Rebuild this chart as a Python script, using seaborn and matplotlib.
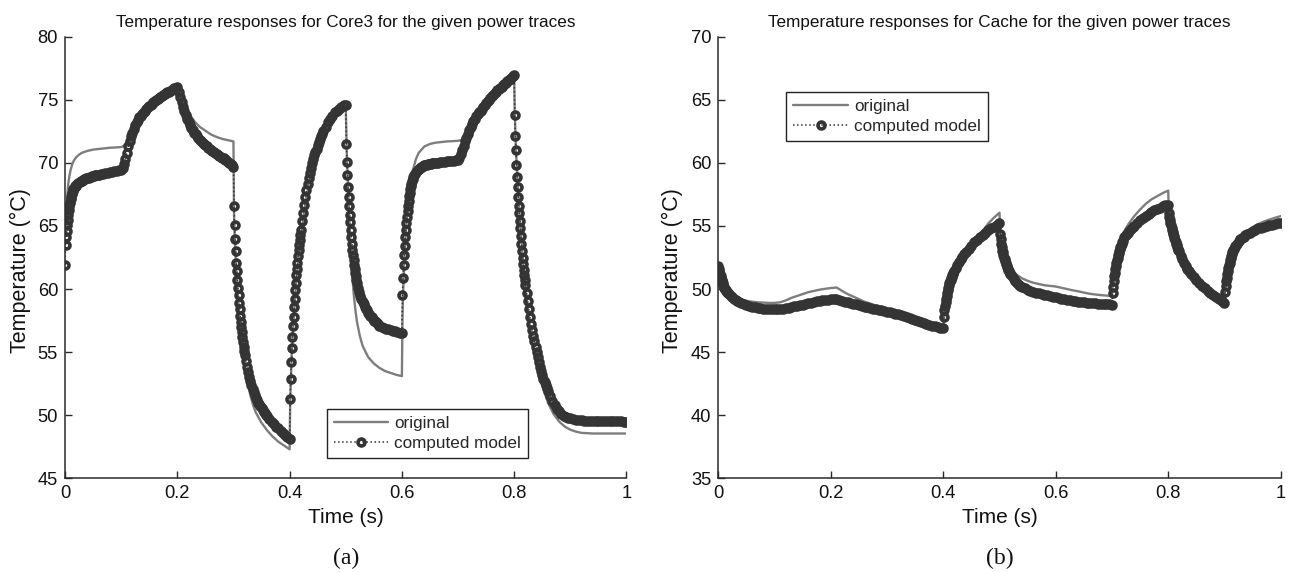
import numpy as np
import matplotlib
matplotlib.use("Agg")
import matplotlib.pyplot as plt
import seaborn as sns

# ---------------- data ----------------
# sampling offsets inside each 0.1 s power interval
FINE = np.r_[np.arange(20) * 0.001, 0.020 + np.arange(20) * 0.002, 0.060 + np.arange(10) * 0.004]
FINE_C = np.r_[np.arange(20) * 0.001, 0.022 + np.arange(7) * 0.003, 0.045 + np.arange(11) * 0.005]
MID = np.arange(40) * 0.0025
COARSE = np.arange(20) * 0.005

core_model_grids = [FINE, MID, MID, FINE, FINE, FINE, FINE, MID, FINE, COARSE]
cache_model_grids = [FINE_C, COARSE, COARSE, COARSE, FINE_C, FINE_C, COARSE, FINE_C, FINE_C, FINE_C]

core_model = [
    # 0.0 - 0.1
    61.9, 63.5, 64.1, 64.6, 65.1, 65.5, 65.9, 66.25, 66.55, 66.85, 67.1, 67.3, 67.5, 67.65, 67.8, 67.9, 68.0, 68.1, 68.15, 68.2,
    68.25, 68.35, 68.42, 68.5, 68.55, 68.6, 68.65, 68.7, 68.73, 68.77, 68.8, 68.83, 68.86, 68.9, 68.92, 68.95, 68.97, 69.0, 69.02, 69.04,
    69.05, 69.1, 69.14, 69.18, 69.22, 69.25, 69.29, 69.33, 69.36, 69.4,
    # 0.1 - 0.2
    69.45, 69.6, 69.9, 70.3, 70.8, 71.3, 71.7, 72.1, 72.4, 72.7,
    73.0, 73.2, 73.4, 73.6, 73.75, 73.9, 74.0, 74.15, 74.3, 74.4,
    74.5, 74.6, 74.7, 74.8, 74.9, 75.0, 75.05, 75.15, 75.2, 75.3,
    75.35, 75.45, 75.5, 75.6, 75.65, 75.7, 75.8, 75.85, 75.9, 75.95,
    # 0.2 - 0.3
    76.0, 75.6, 75.2, 74.8, 74.45, 74.1, 73.8, 73.5, 73.25, 73.0,
    72.8, 72.6, 72.4, 72.25, 72.1, 71.95, 71.8, 71.7, 71.6, 71.5,
    71.4, 71.3, 71.2, 71.1, 71.0, 70.95, 70.85, 70.8, 70.7, 70.6,
    70.55, 70.5, 70.4, 70.35, 70.25, 70.2, 70.1, 70.0, 69.9, 69.8,
    # 0.3 - 0.4
    69.7, 66.6, 65.1, 64.0, 63.0, 62.1, 61.4, 60.7, 60.1, 59.5, 58.9, 58.4, 57.9, 57.4, 57.0, 56.6, 56.2, 55.8, 55.4, 55.1,
    54.8, 54.3, 53.85, 53.45, 53.05, 52.7, 52.4, 52.1, 51.85, 51.6, 51.4, 51.2, 51.0, 50.85, 50.7, 50.55, 50.4, 50.28, 50.16, 50.05,
    49.95, 49.7, 49.5, 49.3, 49.1, 48.95, 48.75, 48.6, 48.45, 48.3,
    # 0.4 - 0.5
    48.1, 51.3, 52.9, 54.2, 55.3, 56.2, 57.1, 57.8, 58.6, 59.2, 59.9, 60.5, 61.1, 61.6, 62.1, 62.6, 63.1, 63.5, 63.9, 64.3,
    64.7, 65.4, 66.05, 66.7, 67.3, 67.85, 68.35, 68.8, 69.2, 69.6, 70.0, 70.3, 70.6, 70.85, 71.1, 71.4, 71.65, 71.9, 72.1, 72.3,
    72.5, 72.85, 73.2, 73.5, 73.75, 74.0, 74.15, 74.3, 74.45, 74.55,
    # 0.5 - 0.6
    74.6, 71.5, 70.1, 69.0, 68.1, 67.3, 66.6, 65.9, 65.3, 64.7, 64.1, 63.6, 63.1, 62.7, 62.3, 61.9, 61.6, 61.3, 61.0, 60.7,
    60.5, 60.1, 59.75, 59.45, 59.2, 59.0, 58.8, 58.6, 58.45, 58.3, 58.1, 58.0, 57.85, 57.75, 57.65, 57.5, 57.45, 57.35, 57.3, 57.2,
    57.1, 57.0, 56.9, 56.85, 56.8, 56.75, 56.7, 56.65, 56.6, 56.55,
    # 0.6 - 0.7
    56.5, 59.5, 60.9, 61.9, 62.7, 63.4, 64.1, 64.7, 65.2, 65.7, 66.2, 66.6, 67.0, 67.35, 67.65, 67.9, 68.15, 68.35, 68.55, 68.7,
    68.85, 69.0, 69.15, 69.3, 69.4, 69.5, 69.58, 69.65, 69.7, 69.75, 69.8, 69.83, 69.86, 69.88, 69.9, 69.92, 69.94, 69.96, 69.98, 70.0,
    70.0, 70.02, 70.05, 70.07, 70.1, 70.12, 70.14, 70.16, 70.18, 70.2,
    # 0.7 - 0.8
    70.2, 70.35, 70.7, 71.0, 71.35, 71.7, 72.0, 72.3, 72.6, 72.85,
    73.1, 73.3, 73.5, 73.7, 73.85, 74.0, 74.15, 74.3, 74.45, 74.6,
    74.75, 74.9, 75.0, 75.15, 75.3, 75.4, 75.5, 75.65, 75.75, 75.85,
    75.95, 76.05, 76.15, 76.25, 76.35, 76.45, 76.55, 76.65, 76.75, 76.85,
    # 0.8 - 0.9
    77.0, 73.8, 72.1, 71.0, 69.8, 68.9, 68.1, 67.3, 66.6, 66.0, 65.4, 64.8, 64.2, 63.6, 63.0, 62.5, 62.0, 61.5, 61.1, 60.7,
    60.35, 59.7, 59.05, 58.4, 57.8, 57.25, 56.75, 56.3, 55.85, 55.4, 55.0, 54.6, 54.2, 53.85, 53.5, 53.2, 52.9, 52.65, 52.4, 52.15,
    51.9, 51.5, 51.1, 50.8, 50.5, 50.3, 50.1, 49.95, 49.85, 49.8,
    # 0.9 - 1.0
    49.75, 49.7, 49.65, 49.62, 49.6, 49.58, 49.57, 49.56, 49.55, 49.55,
    49.54, 49.54, 49.53, 49.53, 49.52, 49.52, 49.52, 49.51, 49.51, 49.5, 49.5,
]

core_orig_t = [
    0.000, 0.002, 0.004, 0.006, 0.008, 0.010, 0.013, 0.016, 0.020, 0.025, 0.030, 0.040, 0.050, 0.060, 0.070, 0.080, 0.090,
    0.100, 0.105, 0.110, 0.115, 0.120, 0.130, 0.140, 0.150, 0.160, 0.170, 0.180, 0.190,
    0.200, 0.205, 0.210, 0.215, 0.220, 0.230, 0.240, 0.250, 0.260, 0.270, 0.280, 0.290,
    0.300, 0.301, 0.302, 0.304, 0.306, 0.308, 0.310, 0.313, 0.316, 0.320, 0.325, 0.330, 0.335, 0.340, 0.350, 0.360, 0.370, 0.380, 0.390,
    0.400, 0.401, 0.402, 0.404, 0.406, 0.408, 0.410, 0.413, 0.416, 0.420, 0.425, 0.430, 0.435, 0.440, 0.450, 0.460, 0.470, 0.480, 0.490,
    0.500, 0.502, 0.504, 0.506, 0.508, 0.511, 0.514, 0.517, 0.520, 0.525, 0.530, 0.540, 0.550, 0.560, 0.570, 0.580, 0.590,
    0.600, 0.601, 0.602, 0.604, 0.606, 0.608, 0.610, 0.613, 0.616, 0.620, 0.625, 0.630, 0.640, 0.650, 0.660, 0.670, 0.680, 0.690,
    0.700, 0.705, 0.710, 0.715, 0.720, 0.725, 0.730, 0.740, 0.750, 0.760, 0.770, 0.780, 0.790,
    0.800, 0.801, 0.803, 0.806, 0.810, 0.815, 0.820, 0.825, 0.830, 0.835, 0.840, 0.850, 0.860, 0.870, 0.880, 0.890,
    0.900, 0.910, 0.920, 0.940, 0.960, 1.000,
]
core_orig = [
    64.3, 66.0, 67.4, 68.4, 69.0, 69.45, 69.9, 70.2, 70.45, 70.65, 70.8, 70.95, 71.05, 71.1, 71.15, 71.2, 71.22,
    71.25, 71.35, 71.6, 71.9, 72.3, 73.2, 73.9, 74.4, 74.85, 75.15, 75.45, 75.7,
    75.9, 75.2, 74.7, 74.35, 74.0, 73.3, 72.85, 72.55, 72.25, 72.05, 71.9, 71.8,
    71.7, 66.0, 64.4, 62.4, 60.8, 59.4, 58.2, 56.7, 55.4, 54.0, 52.6, 51.6, 50.8, 50.2, 49.4, 48.8, 48.3, 47.9, 47.6,
    47.3, 50.8, 52.6, 55.0, 56.8, 58.2, 59.5, 61.1, 62.5, 64.0, 65.8, 67.3, 68.5, 69.5, 71.0, 72.2, 73.1, 73.8, 74.25,
    74.5, 70.6, 68.2, 66.0, 64.0, 61.5, 59.7, 58.4, 57.4, 56.3, 55.5, 54.6, 54.1, 53.75, 53.5, 53.35, 53.2,
    53.1, 57.5, 59.5, 62.0, 63.8, 65.2, 66.3, 67.6, 68.6, 69.5, 70.3, 70.8, 71.3, 71.5, 71.6, 71.65, 71.7, 71.72,
    71.75, 71.8, 71.9, 72.1, 72.5, 72.9, 73.3, 74.0, 74.6, 75.1, 75.5, 75.9, 76.3,
    76.6, 74.0, 71.2, 68.5, 65.6, 62.6, 60.0, 58.0, 56.4, 55.1, 54.0, 52.3, 51.0, 50.1, 49.5, 49.1,
    48.85, 48.7, 48.6, 48.55, 48.55, 48.55,
]

cache_model = [
    # 0.0 - 0.1
    51.8, 51.6, 51.4, 51.2, 51.05, 50.9, 50.75, 50.6, 50.45, 50.3, 50.2, 50.1, 50.0, 49.9, 49.85, 49.8, 49.75, 49.7, 49.65, 49.6,
    49.45, 49.35, 49.25, 49.15, 49.05, 49.0, 48.9,
    48.8, 48.7, 48.65, 48.6, 48.55, 48.5, 48.5, 48.45, 48.45, 48.4, 48.4,
    # 0.1 - 0.2
    48.4, 48.4, 48.42, 48.45, 48.48, 48.52, 48.57, 48.62, 48.67, 48.72,
    48.77, 48.82, 48.87, 48.92, 48.97, 49.02, 49.07, 49.1, 49.14, 49.17,
    # 0.2 - 0.3
    49.2, 49.22, 49.2, 49.15, 49.08, 49.0, 48.95, 48.9, 48.84, 48.78,
    48.72, 48.66, 48.6, 48.55, 48.5, 48.45, 48.4, 48.35, 48.3, 48.26,
    # 0.3 - 0.4
    48.22, 48.18, 48.12, 48.06, 48.0, 47.93, 47.86, 47.79, 47.72, 47.64,
    47.56, 47.48, 47.4, 47.32, 47.24, 47.16, 47.1, 47.04, 46.98, 46.92,
    # 0.4 - 0.5
    46.9, 47.8, 48.3, 48.65, 48.95, 49.2, 49.45, 49.7, 49.9, 50.1, 50.3, 50.45, 50.6, 50.75, 50.85, 50.95, 51.1, 51.2, 51.3, 51.4,
    51.65, 51.9, 52.15, 52.35, 52.55, 52.75, 52.9,
    53.2, 53.45, 53.7, 53.9, 54.1, 54.3, 54.45, 54.65, 54.8, 54.95, 55.1,
    # 0.5 - 0.6
    55.2, 54.4, 54.0, 53.6, 53.3, 53.05, 52.9, 52.7, 52.5, 52.35, 52.2, 52.1, 52.0, 51.85, 51.75, 51.6, 51.5, 51.4, 51.3, 51.2,
    51.0, 50.8, 50.6, 50.5, 50.35, 50.25, 50.15,
    50.05, 49.95, 49.85, 49.8, 49.7, 49.65, 49.6, 49.55, 49.5, 49.45, 49.4,
    # 0.6 - 0.7
    49.35, 49.3, 49.25, 49.2, 49.15, 49.1, 49.07, 49.04, 49.01, 48.98,
    48.95, 48.93, 48.9, 48.88, 48.86, 48.84, 48.82, 48.8, 48.79, 48.78,
    # 0.7 - 0.8
    48.77, 49.7, 50.2, 50.6, 51.0, 51.3, 51.6, 51.85, 52.05, 52.3, 52.5, 52.7, 52.85, 53.0, 53.15, 53.3, 53.45, 53.6, 53.7, 53.8,
    54.1, 54.3, 54.45, 54.6, 54.75, 54.9, 55.0,
    55.2, 55.45, 55.65, 55.8, 55.95, 56.1, 56.25, 56.35, 56.45, 56.55, 56.65,
    # 0.8 - 0.9
    56.7, 56.0, 55.7, 55.45, 55.25, 55.05, 54.85, 54.65, 54.5, 54.35, 54.2, 54.05, 53.9, 53.75, 53.6, 53.5, 53.35, 53.2, 53.1, 53.0,
    52.65, 52.35, 52.05, 51.8, 51.6, 51.4, 51.2,
    50.95, 50.7, 50.45, 50.25, 50.05, 49.85, 49.65, 49.5, 49.35, 49.2, 49.05,
    # 0.9 - 1.0
    48.9, 49.8, 50.25, 50.6, 50.9, 51.2, 51.45, 51.7, 51.9, 52.1, 52.3, 52.45, 52.6, 52.75, 52.9, 53.0, 53.1, 53.2, 53.3, 53.4,
    53.6, 53.8, 53.95, 54.05, 54.15, 54.25, 54.35,
    54.45, 54.6, 54.7, 54.8, 54.85, 54.95, 55.0, 55.05, 55.1, 55.15, 55.2, 55.2,
]

cache_orig_t = [
    0.000, 0.005, 0.010, 0.020, 0.030, 0.050, 0.070, 0.090, 0.100, 0.110, 0.120, 0.130, 0.140, 0.150, 0.160, 0.170, 0.180, 0.190,
    0.200, 0.210, 0.215, 0.220, 0.230, 0.240, 0.250, 0.260, 0.270, 0.280, 0.290,
    0.300, 0.310, 0.320, 0.330, 0.340, 0.350, 0.360, 0.370, 0.380, 0.390,
    0.400, 0.401, 0.402, 0.404, 0.407, 0.410, 0.415, 0.420, 0.430, 0.440, 0.450, 0.460, 0.470, 0.480, 0.490,
    0.500, 0.501, 0.502, 0.504, 0.507, 0.510, 0.515, 0.520, 0.530, 0.540, 0.550, 0.560, 0.570, 0.580, 0.590,
    0.600, 0.610, 0.620, 0.630, 0.640, 0.650, 0.660, 0.670, 0.680, 0.690,
    0.700, 0.701, 0.702, 0.704, 0.707, 0.710, 0.715, 0.720, 0.730, 0.740, 0.750, 0.760, 0.770, 0.780, 0.790,
    0.800, 0.801, 0.802, 0.805, 0.810, 0.815, 0.820, 0.830, 0.840, 0.850, 0.860, 0.870, 0.880, 0.890,
    0.900, 0.901, 0.902, 0.904, 0.907, 0.910, 0.915, 0.920, 0.930, 0.940, 0.950, 0.960, 0.970, 0.980, 0.990, 1.000,
]
cache_orig = [
    51.8, 50.9, 50.2, 49.55, 49.3, 49.05, 48.95, 48.9, 48.9, 48.95, 49.1, 49.3, 49.45, 49.6, 49.75, 49.85, 49.95, 50.02,
    50.08, 50.12, 50.0, 49.85, 49.6, 49.4, 49.2, 49.0, 48.85, 48.7, 48.55,
    48.42, 48.25, 48.05, 47.9, 47.75, 47.6, 47.42, 47.25, 47.1, 46.95,
    46.85, 47.7, 48.2, 48.9, 49.7, 50.3, 51.0, 51.6, 52.45, 53.1, 53.6, 54.1, 54.6, 55.2, 55.65,
    56.05, 55.0, 54.4, 53.6, 52.9, 52.45, 51.95, 51.6, 51.15, 50.85, 50.65, 50.5, 50.4, 50.3, 50.25,
    50.2, 50.1, 50.0, 49.9, 49.82, 49.72, 49.63, 49.57, 49.52, 49.48,
    49.45, 50.6, 51.2, 52.0, 52.8, 53.35, 54.0, 54.45, 55.2, 55.8, 56.3, 56.75, 57.1, 57.35, 57.6,
    57.8, 56.2, 55.8, 55.1, 54.2, 53.5, 52.9, 51.9, 51.2, 50.7, 50.25, 49.85, 49.5, 49.2,
    48.95, 49.9, 50.4, 51.1, 51.9, 52.45, 53.1, 53.6, 54.2, 54.6, 54.9, 55.15, 55.35, 55.5, 55.65, 55.78,
]

x_ticks = [0, 0.2, 0.4, 0.6, 0.8, 1]
x_tick_labels = ["0", "0.2", "0.4", "0.6", "0.8", "1"]
core_y_ticks = [45, 50, 55, 60, 65, 70, 75, 80]
cache_y_ticks = [35, 40, 45, 50, 55, 60, 65, 70]
titles = ["Temperature responses for Core3 for the given power traces",
          "Temperature responses for Cache for the given power traces"]
panel_tags = ["(a)", "(b)"]


def build_time(grids):
    return np.concatenate([0.1 * i + g for i, g in enumerate(grids)] + [np.array([1.0])])


core_model_t = build_time(core_model_grids)
cache_model_t = build_time(cache_model_grids)
assert len(core_model_t) == len(core_model), (len(core_model_t), len(core_model))
assert len(cache_model_t) == len(cache_model), (len(cache_model_t), len(cache_model))
assert len(core_orig_t) == len(core_orig)
assert len(cache_orig_t) == len(cache_orig)

# ---------------- style ----------------
sns.set_theme(style="white")
plt.rcParams["font.family"] = ["Liberation Sans", "DejaVu Sans"]
DARK = "#343434"
GRAY = "#7d7d7d"
AX = "#2a2a2a"

fig = plt.figure(figsize=(12.91, 5.73), dpi=100)
ax1 = fig.add_axes([0.05035, 0.16527, 0.43493, 0.77068])
ax2 = fig.add_axes([0.55639, 0.16527, 0.43563, 0.77068])

panels = [
    (ax1, core_orig_t, core_orig, core_model_t, core_model, core_y_ticks, (45, 80),
     dict(loc="lower left", bbox_to_anchor=(0.4666, 0.046)), -0.0606),
    (ax2, cache_orig_t, cache_orig, cache_model_t, cache_model, cache_y_ticks, (35, 70),
     dict(loc="upper left", bbox_to_anchor=(0.121, 0.874)), -0.0628),
]

for i, (ax, ot, ov, mt, mv, yt, ylim, legkw, ylx) in enumerate(panels):
    sns.lineplot(x=ot, y=ov, ax=ax, color=GRAY, linewidth=1.7, sort=False,
                 estimator=None, label="original")
    sns.lineplot(x=mt, y=mv, ax=ax, color=DARK, linewidth=1.1, linestyle=":",
                 marker="o", markersize=5.0, markeredgewidth=2.6,
                 markerfacecolor="none", markeredgecolor=DARK,
                 sort=False, estimator=None, label="computed model")
    ax.set_xlim(0, 1)
    ax.set_ylim(*ylim)
    ax.set_xticks(x_ticks)
    ax.set_xticklabels(x_tick_labels)
    ax.set_yticks(yt)
    ax.set_yticklabels([str(v) for v in yt])
    for side in ["top", "right"]:
        ax.spines[side].set_visible(False)
    for side in ["left", "bottom"]:
        ax.spines[side].set_color(AX)
        ax.spines[side].set_linewidth(1.1)
    ax.tick_params(axis="both", direction="in", length=5, width=1.0, color=AX,
                   labelsize=13.2, labelcolor="#111111", pad=5,
                   left=True, bottom=True, top=False, right=False)
    ax.set_xlabel("Time (s)", fontsize=15, color="#111111", labelpad=4)
    ax.set_ylabel("Temperature (°C)", fontsize=15.5, color="#111111")
    ax.yaxis.set_label_coords(ylx, 0.471)
    ax.set_title(titles[i], fontsize=12.3, color="#111111", pad=7)
    leg = ax.legend(fontsize=12.3, frameon=True, fancybox=False, framealpha=1,
                    edgecolor="#222222", borderpad=0.4, labelspacing=0.3,
                    handlelength=3.2, handletextpad=0.35, borderaxespad=0,
                    numpoints=1, **legkw)
    leg.get_frame().set_linewidth(1.0)
    cx = ax.get_position().x0 + ax.get_position().width / 2
    fig.text(cx, 1 - 558 / 573, panel_tags[i], ha="center", va="center",
             fontsize=17, family=["Liberation Serif", "DejaVu Serif"], color="#111111")

fig.savefig("out.png", dpi=100)
